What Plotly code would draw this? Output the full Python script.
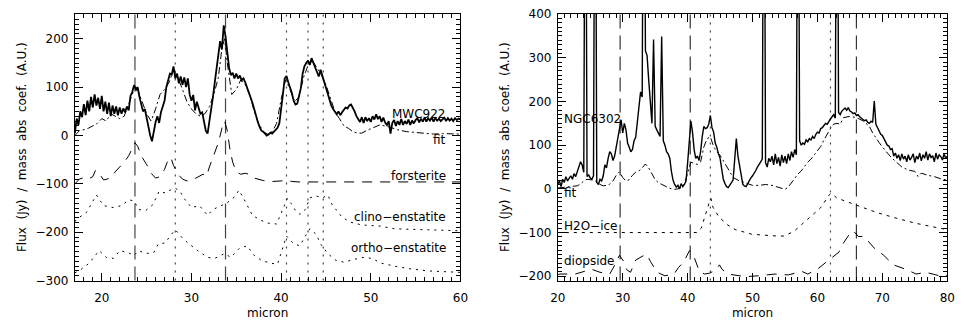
import numpy as np
import plotly.graph_objects as go

# ---------------- left panel: MWC922 ----------------
mwc_wave = np.round(np.arange(17.0, 60.001, 0.2), 1)
mwc_flux = [
    5, 35, 22, 50, 38,
    65, 42, 72, 50, 80,
    58, 85, 62, 78, 55,
    82, 50, 70, 45, 68,
    40, 62, 45, 60, 42,
    58, 45, 56, 48, 60,
    52, 82, 90, 104, 96,
    100, 80, 65, 50, 55,
    35, 22, 0, -12, 10,
    28, 40, 26, 48, 58,
    72, 100, 115, 128, 126,
    143, 118, 128, 108, 122,
    105, 120, 100, 118, 85,
    72, 84, 52, 70, 58,
    45, 48, 28, 10, 4,
    28, 58, 80, 110, 140,
    168, 195, 178, 228, 205,
    165, 140, 125, 130, 118,
    128, 118, 124, 114, 118,
    110, 100, 90, 78, 68,
    55, 40, 28, 18, 10,
    8, 3, 0, 2, 6,
    4, 8, 12, 16, 25,
    50, 85, 118, 123, 110,
    100, 88, 72, 64, 66,
    80, 98, 128, 143, 150,
    155, 146, 160, 150, 140,
    128, 122, 136, 124, 110,
    100, 84, 72, 62, 55,
    50, 44, 50, 42, 48,
    52, 58, 56, 62, 64,
    58, 50, 40, 34, 28,
    38, 26, 38, 30, 36,
    28, 40, 33, 44, 34,
    40, 28, 37, 27, 22,
    30, 4, 26, 32, 20,
    30, 22, 34, 22, 30,
    24, 33, 22, 31, 25,
    32, 36, 27, 35, 29,
    37, 29, 36, 31, 37,
    29, 36, 31, 35, 30,
    34, 37, 30, 36, 31,
    35, 30, 36, 32, 35,
    33,
]

mwc_fit_wave = [17, 17.5, 18, 18.5, 19, 19.5, 20, 20.5, 21, 21.5, 22, 22.5, 23, 23.5,
                24, 24.5, 25, 25.5, 26, 26.5, 27, 27.5, 28, 28.5, 29, 29.5, 30, 30.5,
                31, 31.5, 32, 32.5, 33, 33.4, 33.7, 34, 34.5, 35, 35.5, 36, 36.5, 37,
                37.5, 38, 38.5, 39, 39.5, 40, 40.5, 41, 41.5, 42, 42.5, 43, 43.5, 44,
                44.5, 45, 45.5, 46, 46.5, 47, 47.5, 48, 48.5, 49, 49.5, 50, 51, 52, 53,
                54, 55, 56, 57, 58, 59, 60]
mwc_fit = [0, 10, 12, 15, 20, 25, 35, 30, 45, 40, 35, 40, 65, 90,
           95, 70, 45, 30, 55, 85, 95, 110, 135, 120, 95, 70, 55, 45,
           40, 45, 60, 85, 120, 180, 200, 150, 85, 95, 115, 105, 85, 50,
           25, 8, 3, 8, 25, 75, 115, 95, 70, 80, 120, 145, 155, 140,
           125, 105, 75, 50, 35, 20, 15, 8, 5, 5, 10, 14, 22, 18, 12,
           8, 6, 4, 3, 4, 3, 3]

forst_wave = [17.0, 17.5, 18.0, 18.5, 19.0, 19.3, 19.7, 20.2, 20.6, 21.0, 21.5, 22.0,
              22.5, 23.0, 23.4, 23.7, 24.0, 24.5, 25.0, 25.5, 26.0, 26.5, 27.0, 27.3,
              27.7, 28.0, 28.5, 29.0, 29.5, 30.0, 30.5, 31.0, 31.3, 31.7, 32.0, 32.5,
              33.0, 33.4, 33.7, 34.0, 34.3, 34.6, 35.0, 35.5, 36.0, 36.4, 37.0, 38.0,
              39.0, 40.0, 40.6, 41.2, 42.0, 44.0, 46.0, 50.0, 55.0, 60.0]
forst = [-100, -90, -87, -90, -85, -72, -78, -92, -90, -88, -75, -65,
         -55, -42, -25, -15, -22, -45, -60, -78, -88, -85, -70, -55,
         -45, -62, -80, -90, -94, -92, -88, -84, -80, -84, -65, -40,
         -15, 15, 30, 10, -30, -55, -75, -80, -78, -80, -88, -93,
         -95, -94, -92, -95, -96, -96, -96, -96, -96, -96]

clino_wave = [17.0, 17.2, 18.3, 19.4, 20.2, 21.3, 22.2, 23.0, 23.6, 24.1, 24.9, 25.7,
              26.4, 27.1, 27.6, 28.2, 28.7, 29.3, 30.0, 30.9, 31.8, 32.4, 33.3, 34.0,
              34.8, 35.3, 35.9, 36.8, 37.7, 38.5, 39.5, 40.3, 40.7, 41.1, 41.6, 42.1,
              42.7, 43.2, 43.9, 44.6, 45.2, 45.7, 46.8, 47.7, 49.0, 50.9, 52.7, 56.4,
              60.0]
clino = [-178, -173, -159, -123, -145, -149, -145, -133, -135, -153, -155, -143,
         -115, -119, -113, -109, -115, -133, -149, -145, -165, -153, -145, -139,
         -127, -113, -133, -165, -175, -181, -183, -149, -130, -140, -155, -163,
         -153, -129, -125, -129, -123, -143, -169, -179, -185, -187, -193, -195,
         -197]

ortho_wave = [17.0, 17.6, 18.6, 19.7, 20.5, 21.3, 22.0, 22.9, 23.6, 24.1, 24.9, 25.8,
              26.3, 27.1, 27.6, 28.2, 29.0, 29.6, 30.7, 31.8, 32.6, 33.7, 34.4, 35.3,
              36.2, 37.0, 37.8, 38.8, 39.6, 40.3, 40.6, 41.4, 42.1, 42.7, 43.2, 43.9,
              44.4, 45.2, 46.1, 47.0, 47.9, 49.0, 50.1, 51.2, 52.6, 54.5, 56.4, 58.6,
              60.0]
ortho = [-284, -278, -264, -238, -252, -254, -238, -242, -248, -238, -244, -242,
         -224, -222, -208, -195, -212, -222, -238, -252, -254, -244, -252, -234,
         -228, -248, -258, -264, -266, -228, -208, -224, -228, -208, -193, -204,
         -224, -244, -258, -262, -258, -252, -254, -264, -270, -276, -280, -282,
         -283]

left_dashed_lines = [23.7, 33.8]
left_dotted_lines = [28.2, 40.6, 43.0, 44.7]

left_labels = ["MWC922", "fit", "forsterite", "clino\u2212enstatite", "ortho\u2212enstatite"]
left_label_y = [45, -10, -84, -169, -233]

# ---------------- right panel: NGC6302 ----------------
ngc_wave = np.round(np.arange(20.0, 80.001, 0.25), 2)
ngc_flux = [
    10, 18, 5, 22,
    15, 28, 18, 25,
    30, 22, 35, 28,
    40, 48, 62, 55,
    38, 1100, 28, 32,
    25, 22, 30, 1100,
    15, 10, 22, 18,
    30, 55, 48, 70,
    85, 80, 65, 75,
    95, 115, 140, 158,
    128, 150, 135, 105,
    95, 85, 90, 110,
    118, 150, 190, 222,
    210, 1100, 316, 305,
    250, 190, 150, 342,
    143, 135, 128, 120,
    349, 110, 100, 85,
    80, 70, 40, 20,
    10, 4, 8, 0,
    12, 5, 10, 18,
    60, 110, 155, 130,
    90, 70, 75, 65,
    85, 120, 143, 138,
    140, 148, 168, 140,
    130, 105, 95, 80,
    70, 45, 22, 12,
    5, 3, 10, 14,
    20, 60, 115, 75,
    50, 28, 10, 7,
    5, 12, 20, 25,
    30, 35, 42, 50,
    55, 62, 68, 1100,
    60, 50, 70, 62,
    75, 55, 80, 58,
    72, 52, 78, 60,
    75, 58, 80, 65,
    85, 72, 90, 78,
    1100, 110, 100, 105,
    102, 112, 108, 115,
    112, 120, 115, 125,
    130, 128, 138, 140,
    145, 150, 148, 155,
    160, 165, 170, 162,
    1100, 175, 170, 178,
    182, 185, 180, 186,
    178, 176, 172, 174,
    168, 170, 165, 162,
    160, 156, 158, 152,
    150, 155, 152, 201,
    148, 140, 132, 125,
    122, 115, 108, 100,
    98, 90, 92, 75,
    82, 70, 78, 65,
    80, 68, 75, 62,
    78, 66, 72, 80,
    60, 75, 68, 82,
    64, 78, 70, 85,
    66, 80, 72, 76,
    62, 82, 68, 78,
    74, 66, 80, 70,
    75,
]

ngc_fit_wave = [20, 20.5, 21, 21.5, 22, 22.5, 23, 23.5, 24, 24.5, 25, 25.5, 26, 26.5,
                27, 27.5, 28, 28.5, 29, 29.5, 30, 30.5, 31, 31.5, 32, 32.5, 33, 33.5,
                34, 34.5, 35, 35.5, 36, 36.5, 37, 37.5, 38, 38.5, 39, 39.5, 40, 40.5,
                41, 41.5, 42, 42.5, 43, 43.5, 44, 44.5, 45, 45.5, 46, 46.5, 47, 47.5,
                48, 48.5, 49, 49.5, 50, 51, 52, 53, 54, 55, 55.5, 56, 56.5, 57, 57.5,
                58, 58.5, 59, 60, 60.5, 61, 61.5, 62, 62.5, 63, 63.5, 64, 65, 66, 67,
                68, 68.5, 69, 69.5, 70, 70.5, 71, 71.5, 72, 72.5, 73, 74, 75, 75.5,
                76, 77, 78, 79, 80]
ngc_fit = [2, 3, 4, 5, 6, 6, 7, 11, 18, 22, 21, 20, 16, 10,
           7, 8, 11, 18, 31, 39, 26, 18, 21, 31, 38, 41, 48, 57,
           48, 34, 21, 14, 10, 7, 3, 0, -1, 0, 3, 11, 36, 61,
           58, 56, 62, 96, 115, 119, 97, 85, 77, 65, 54, 39, 26, 21,
           18, 16, 13, 10, 8, 8, 10, 8, 4, -1, 4, 14, 24, 34, 41,
           51, 61, 68, 89, 97, 112, 126, 138, 148, 150, 148, 163, 166, 163, 156,
           143, 128, 116, 106, 96, 86, 78, 70, 63, 56, 50, 43, 40, 28,
           36, 31, 28, 23, 20]

h2o_wave = [20.0, 30.0, 41.4, 42.1, 42.9, 43.4, 43.6, 43.9, 44.8, 46.1, 47.3, 49.9,
            53.8, 54.9, 56.4, 58.4, 60.5, 61.8, 62.1, 63.0, 66.1, 69.1, 72.1, 75.2,
            78.8, 80.0]
h2o = [-100, -100, -100, -90, -50, -28, -22, -42, -64, -82, -93, -104,
       -108, -108, -97, -71, -43, -14, -10, -21, -38, -54, -67, -79,
       -90, -93]

diop_wave = [20.0, 20.2, 22.7, 25.2, 26.5, 28.0, 28.8, 29.5, 30.1, 30.6, 31.2, 32.0,
             33.3, 33.7, 34.3, 35.3, 36.5, 37.9, 38.6, 39.4, 40.3, 40.9, 41.8, 42.6,
             43.4, 44.4, 44.9, 45.3, 46.2, 48.9, 50.9, 53.5, 55.5, 57.6, 58.5, 60.0,
             61.4, 62.6, 63.3, 64.0, 65.0, 65.5, 66.3, 67.2, 68.7, 70.2, 71.7, 73.6,
             75.2, 76.7, 78.8, 80.0]
diop = [-198, -195, -195, -184, -191, -195, -174, -152, -165, -185, -191, -163,
        -152, -150, -167, -191, -199, -195, -180, -167, -141, -152, -189, -195,
        -193, -185, -174, -184, -195, -201, -199, -195, -197, -189, -195, -184,
        -167, -152, -145, -124, -102, -96, -109, -109, -135, -152, -174, -184,
        -195, -191, -199, -198]

right_dashed_lines = [29.6, 40.4, 66.0]
right_dotted_lines = [43.5, 62.0]

right_labels = ["NGC6302", "fit", "H2O\u2212ice", "diopside"]
right_label_y = [160, -9, -84, -165]

# ---------------- figure ----------------
FONT = "DejaVu Sans"
fig = go.Figure()

def line(x, y, xa, ya, width=1.0, dash="solid", color="black"):
    fig.add_trace(go.Scatter(x=x, y=y, xaxis=xa, yaxis=ya, mode="lines",
                             line=dict(color=color, width=width, dash=dash),
                             hoverinfo="skip", showlegend=False))

FIT_DASH = "7px,3px,2px,3px"
LONG_DASH = "10px,8px"
DOTS = "2px,5px"

line(mwc_wave, mwc_flux, "x", "y", width=1.8)
line(mwc_fit_wave, mwc_fit, "x", "y", dash=FIT_DASH)
line(forst_wave, forst, "x", "y", dash=LONG_DASH)
line(clino_wave, clino, "x", "y", dash=DOTS)
line(ortho_wave, ortho, "x", "y", dash=DOTS)

line(ngc_wave, ngc_flux, "x2", "y2", width=1.4)
line(ngc_fit_wave, ngc_fit, "x2", "y2", dash=FIT_DASH)
line(h2o_wave, h2o, "x2", "y2", dash="3px,5px")
line(diop_wave, diop, "x2", "y2", dash=LONG_DASH)

def vlines(xs, xref, yref, dash, color):
    for xv in xs:
        fig.add_shape(type="line", xref=xref, yref=yref, x0=xv, x1=xv, y0=0, y1=1,
                      line=dict(color=color, width=1.2, dash=dash), layer="below")

vlines(left_dashed_lines, "x", "y domain", "14px,7px", "#444444")
vlines(left_dotted_lines, "x", "y domain", "2px,6px", "#444444")
vlines(right_dashed_lines, "x2", "y2 domain", "14px,7px", "#333333")
vlines(right_dotted_lines, "x2", "y2 domain", "2px,6px", "#444444")

for text, yv in zip(left_labels, left_label_y):
    fig.add_annotation(x=58.6, y=yv, xref="x", yref="y", text=text, showarrow=False,
                       xanchor="right", yanchor="middle",
                       font=dict(family=FONT, size=12, color="black"))
for text, yv in zip(right_labels, right_label_y):
    fig.add_annotation(x=20.6, y=yv, xref="x2", yref="y2", text=text, showarrow=False,
                       xanchor="left", yanchor="middle",
                       font=dict(family=FONT, size=12, color="black"))

W, H = 973, 326
top, bottom = 8, 286
ydom = [1 - bottom / H, 1 - top / H]

axis_common = dict(
    showline=True, linecolor="black", linewidth=1, mirror="allticks",
    ticks="inside", ticklen=8, tickwidth=1, tickcolor="black",
    showgrid=False, zeroline=False,
    tickfont=dict(family=FONT, size=12, color="black"),
    minor=dict(ticks="inside", ticklen=4, tickwidth=1, tickcolor="black", showgrid=False),
)
ytitle = "Flux  (Jy)  /  mass  abs  coef.  (A.U.)"
title_font = dict(family=FONT, size=12, color="black")

fig.update_layout(
    width=W, height=H,
    margin=dict(l=0, r=0, t=0, b=0),
    paper_bgcolor="white", plot_bgcolor="white",
    xaxis=dict(axis_common, domain=[68 / W, 460 / W], range=[17, 60], dtick=10, tick0=0,
               minor=dict(axis_common["minor"], dtick=1), anchor="y", ticklabelstandoff=6,
               title=dict(text="micron", standoff=4, font=title_font)),
    yaxis=dict(axis_common, domain=ydom, range=[-300, 252], dtick=100, tick0=0,
               minor=dict(axis_common["minor"], dtick=10), anchor="x", ticklabelstandoff=3,
               title=dict(text=ytitle, standoff=6, font=title_font)),
    xaxis2=dict(axis_common, domain=[559 / W, 955 / W], range=[20, 80], dtick=10, tick0=0,
                minor=dict(axis_common["minor"], dtick=1), anchor="y2", ticklabelstandoff=6,
                title=dict(text="micron", standoff=4, font=title_font)),
    yaxis2=dict(axis_common, domain=ydom, range=[-210, 401], dtick=100, tick0=0,
                minor=dict(axis_common["minor"], dtick=10), anchor="x2", ticklabelstandoff=3,
                title=dict(text=ytitle, standoff=6, font=title_font)),
)

fig.write_html("out.html")
